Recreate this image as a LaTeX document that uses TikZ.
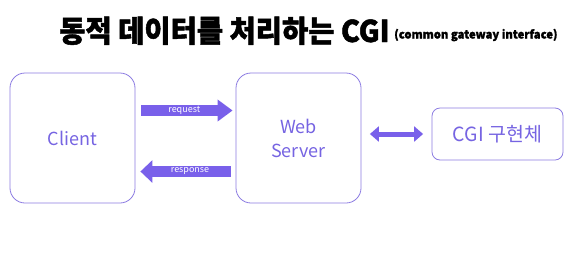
\documentclass[tikz,border=0pt]{standalone}
\usepackage{fontspec}
\newfontfamily\kr{Noto Sans CJK KR}
\newfontfamily\krheavy[BoldFeatures={FakeBold=1.6}]{Noto Sans CJK KR}
\usetikzlibrary{arrows.meta,calc}
\definecolor{txtpurple}{RGB}{118,100,226}
\definecolor{arrpurple}{RGB}{121,96,234}
\definecolor{boxborder}{RGB}{140,124,226}
\tikzset{
  roundbox/.style={draw=boxborder, line width=0.8pt, rounded corners=15pt, fill=white,
    text=txtpurple, font=\kr\fontsize{18}{24}\selectfont, align=center, inner sep=0pt},
  bigarrow/.style={draw=arrpurple, line width=10.5pt, -{Triangle[width=21pt,length=15pt]}},
  lbl/.style={text=white, font=\kr\fontsize{9}{10}\selectfont, inner sep=0pt},
}
\begin{document}
\begin{tikzpicture}[x=1pt,y=-1pt]
\useasboundingbox (0,0) rectangle (577,258);
\fill[white] (0,0) rectangle (577,258);
% title
\node[anchor=base west, inner sep=0pt] (title) at (59,42)
  {\scalebox{0.95}[1]{\krheavy\bfseries\fontsize{30}{32}\selectfont 동적 데이터를 처리하는 CGI}};
\node[anchor=base west, inner sep=0pt] (sub) at (394,38.5)
  {\scalebox{0.98}[1]{\krheavy\bfseries\fontsize{11.5}{12}\selectfont (common gateway interface)}};
% boxes
\node[roundbox, minimum width=125pt, minimum height=130pt] (client) at (72.5,138) {Client};
\node[roundbox, minimum width=125pt, minimum height=130pt] (web) at (298.5,138) {Web\\Server};
\node[roundbox, rounded corners=8pt, minimum width=131pt, minimum height=52pt,
  font=\kr\fontsize{19.5}{24}\selectfont] (cgi) at (497.5,134) {CGI 구현체};
% request
\coordinate (rqs) at ($(client.east)+(6,-27.5)$);
\coordinate (rqe) at ($(web.west)+(-3,-27.5)$);
\draw[bigarrow] (rqs) -- (rqe);
\node[lbl] (rql) at ($(rqs)!0.47!(rqe)$) {request};
% response
\coordinate (rss) at ($(web.west)+(-5,33.5)$);
\coordinate (rse) at ($(client.east)+(5,33.5)$);
\draw[draw=arrpurple, line width=11pt, -{Triangle[width=22pt,length=12pt]}] (rss) -- (rse);
\node[lbl] (rsl) at ($(rss)!0.45!(rse)$) {response};
% double arrow
\coordinate (da) at ($(web.east |- cgi.west)+(8.5,0)$);
\coordinate (db) at ($(cgi.west)+(-8.5,0)$);
\draw[draw=arrpurple, line width=5pt, {Triangle[width=15pt,length=9pt]}-{Triangle[width=15pt,length=9pt]}] (da) -- (db);
\end{tikzpicture}
\end{document}
